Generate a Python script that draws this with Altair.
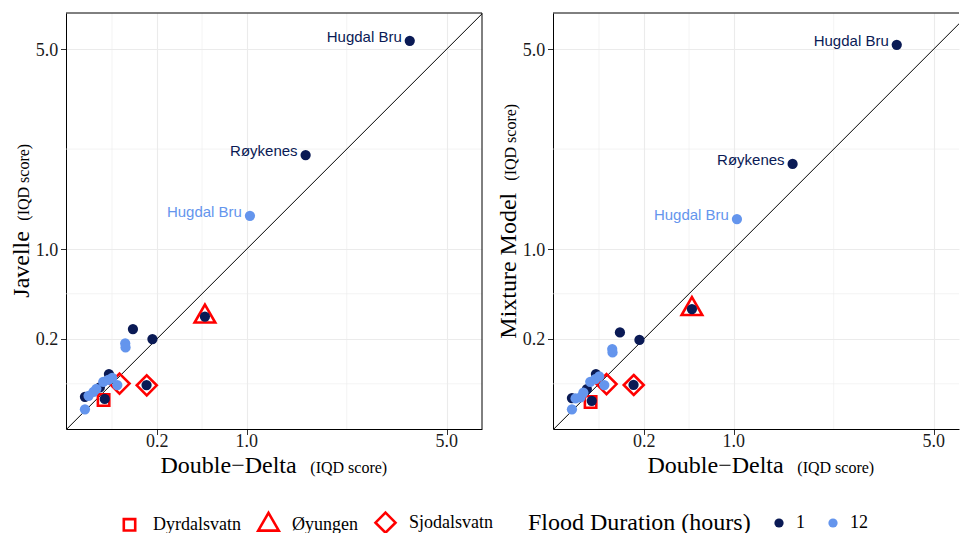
import altair as alt
import pandas as pd

NAVY = "#0a1a55"
LIGHT = "#6495ED"
RED = "#FF0000"
GRID = "#EBEBEB"
SERIF = "Liberation Serif"
SANS = "Liberation Sans"

# ---- data ----
dd_1h = [4.03, 1.86, 0.55, 0.088, 0.174, 0.145, 0.015, 0.022, 0.0085, 0.0]
jav_1h = [5.23, 2.50, 0.34, 0.256, 0.197, 0.0254, 0.0055, 0.0517, 0.0209, 0.0076]
mix_1h = [5.12, 2.33, 0.396, 0.235, 0.192, 0.026, 0.0039, 0.0517, 0.0182, 0.0063]
lab_1h = ["Hugdal Bru", "Røykenes", "", "", "", "", "", "", "", ""]

dd_12h = [1.04, 0.062, 0.063, 0.040, 0.0128, 0.0207, 0.0284, 0.005, 0.0028, 0.0005, 0.0]
jav_12h = [1.454, 0.1735, 0.1535, 0.0254, 0.0323, 0.0369, 0.0418, 0.0187, 0.0139, 0.0087, 0.0001]
mix_12h = [1.405, 0.1459, 0.1303, 0.0254, 0.0323, 0.0386, 0.0452, 0.0129, 0.0069, 0.0059, 0.0001]
lab_12h = ["Hugdal Bru", "", "", "", "", "", "", "", "", "", ""]

shape_station = ["Dyrdalsvatn", "Øyungen", "Sjodalsvatn", "Sjodalsvatn"]
shape_dd = [0.0133, 0.55, 0.146, 0.0457]
shape_jav = [0.0045, 0.34, 0.025, 0.0285]
shape_mix = [0.003, 0.396, 0.0256, 0.0274]

stations = ["Dyrdalsvatn", "Øyungen", "Sjodalsvatn"]
durations = ["1", "12"]
major_ticks = [0.2, 1.0, 5.0]
minor_grid = [0.028, 0.524, 2.618]
diag = [-0.014, 6.1]

X_DOMAIN_1 = [-0.01369, 6.022]
X_DOMAIN_2 = [-0.01369, 5.723]
Y_DOMAIN = [-0.01254, 6.0467]

H = 416
W1 = 416
W2 = 406

pts = pd.DataFrame({
    "dd": dd_1h + dd_12h,
    "jav": jav_1h + jav_12h,
    "mix": mix_1h + mix_12h,
    "dur": ["1"] * len(dd_1h) + ["12"] * len(dd_12h),
    "label": lab_1h + lab_12h,
})
shp = pd.DataFrame({"station": shape_station, "dd": shape_dd, "jav": shape_jav, "mix": shape_mix})
grid_df = pd.DataFrame({"v": minor_grid})
tick_df = pd.DataFrame({"v": major_ticks})
diag_df = pd.DataFrame({"v": diag})
one = alt.Data(values=[{"k": 1}])

SQUARE = "M-0.57,-0.57L0.57,-0.57L0.57,0.57L-0.57,0.57Z"
TRIANGLE = "M0,-1.19L1.03,0.595L-1.03,0.595Z"
DIAMOND = "M0,-1L1,0L0,1L-1,0Z"


def panel(yfield, xdom, width, ymain, ymain_y, yiqd_y, right_border):
    xs = alt.Scale(type="sqrt", domain=xdom, nice=False, zero=False)
    ys = alt.Scale(type="sqrt", domain=Y_DOMAIN, nice=False, zero=False)
    xax = alt.Axis(values=major_ticks, title=None, grid=True, gridColor=GRID,
                   gridWidth=1.1, domain=True, domainColor="black", domainWidth=1,
                   tickColor="#333333", tickSize=5.5, labels=False)
    yax = alt.Axis(values=major_ticks, title=None, grid=True, gridColor=GRID,
                   gridWidth=1.1, domain=True, domainColor="black", domainWidth=1,
                   tickColor="#333333", tickSize=5.5, labels=False)
    X = lambda f: alt.X(f, scale=xs, axis=xax)
    Y = lambda f: alt.Y(f, scale=ys, axis=yax)

    gx = alt.Chart(grid_df).mark_rule(color=GRID, strokeWidth=0.6).encode(x=X("v:Q"))
    gy = alt.Chart(grid_df).mark_rule(color=GRID, strokeWidth=0.6).encode(y=Y("v:Q"))
    line = alt.Chart(diag_df).mark_line(color="black", strokeWidth=1, clip=True).encode(
        x=X("v:Q"), y=Y("v:Q"))
    shapes = alt.Chart(shp).mark_point(filled=False, color=RED, strokeWidth=2.6, size=400,
                                       opacity=1).encode(
        x=X("dd:Q"), y=Y(f"{yfield}:Q"),
        shape=alt.Shape("station:N", scale=alt.Scale(domain=stations,
                                                     range=[SQUARE, TRIANGLE, DIAMOND]),
                        legend=alt.Legend(title=None, orient="none", legendX=52, legendY=498,
                                          direction="horizontal", symbolSize=400,
                                          symbolStrokeColor=RED, symbolStrokeWidth=2.6,
                                          symbolFillColor="transparent", labelFont=SERIF,
                                          labelFontSize=18, labelColor="black",
                                          labelOffset=12, columnPadding=12, padding=0,
                                          labelLimit=300)))
    points = alt.Chart(pts).mark_circle(size=105, opacity=1).encode(
        x=X("dd:Q"), y=Y(f"{yfield}:Q"),
        color=alt.Color("dur:N", scale=alt.Scale(domain=durations, range=[NAVY, LIGHT]),
                        legend=alt.Legend(title="Flood Duration (hours)", titleOrient="left",
                                          orient="none", legendX=462, legendY=501,
                                          direction="horizontal", symbolType="circle",
                                          symbolSize=85, titleFont=SERIF, titleFontSize=24,
                                          titleFontWeight="normal", titleColor="black",
                                          titlePadding=19, titleBaseline="middle",
                                          labelFont=SERIF, labelFontSize=18,
                                          labelColor="black", labelOffset=8,
                                          columnPadding=19, padding=0, titleLimit=400)))
    labels = alt.Chart(pts).transform_filter("datum.label != ''").mark_text(
        align="right", baseline="alphabetic", dx=-8, dy=1, font=SANS, fontSize=15).encode(
        x=X("dd:Q"), y=Y(f"{yfield}:Q"), text="label:N",
        color=alt.condition("datum.dur == '1'", alt.value(NAVY), alt.value(LIGHT)))

    # tick labels (serif), positioned through the scales
    xlab = alt.Chart(tick_df).mark_text(font=SERIF, fontSize=18, align="center",
                                        baseline="alphabetic", color="#1a1a1a").encode(
        x=X("v:Q"), y=alt.value(H + 17.7), text=alt.Text("v:Q", format=".1f"))
    ylab = alt.Chart(tick_df).mark_text(font=SERIF, fontSize=18, align="right",
                                        baseline="alphabetic", dy=6.7, color="#1a1a1a").encode(
        y=Y("v:Q"), x=alt.value(-7.8), text=alt.Text("v:Q", format=".1f"))

    def txt(s, size, x, y, angle=0):
        return alt.Chart(one).mark_text(text=s, font=SERIF, fontSize=size, align="left",
                                        baseline="alphabetic", angle=angle,
                                        color="black").encode(x=alt.value(x), y=alt.value(y))

    top = alt.Chart(one).mark_rule(color="black", strokeWidth=1).encode(
        x=alt.value(0), x2=alt.value(width), y=alt.value(0))
    layers = [gx, gy, line, shapes, points, labels, xlab, ylab, top,
              txt("Double\u2212Delta", 24, 94.5, 459.5),
              txt("(IQD score)", 16, 244.3, 459.5),
              txt(ymain, 24, -37.4, ymain_y, 270),
              txt("(IQD score)", 16, -37.4, yiqd_y, 270)]
    if right_border:
        layers.append(alt.Chart(one).mark_rule(color="black", strokeWidth=1).encode(
            x=alt.value(width), y=alt.value(0), y2=alt.value(H)))
    return alt.layer(*layers).properties(width=width, height=H)


p1 = panel("jav", X_DOMAIN_1, W1, "Javelle", 284.7, 207.7, True)
p2 = panel("mix", X_DOMAIN_2, W2, "Mixture Model", 325.7, 167.7, False)

chart = alt.hconcat(p1, p2, spacing=71, bounds="flush").properties(
    padding={"left": 9, "top": 12, "right": 0, "bottom": 4}
).configure(background="white").configure_view(stroke=None)

chart.save("out.html", embed_options={"renderer": "svg", "actions": False})
